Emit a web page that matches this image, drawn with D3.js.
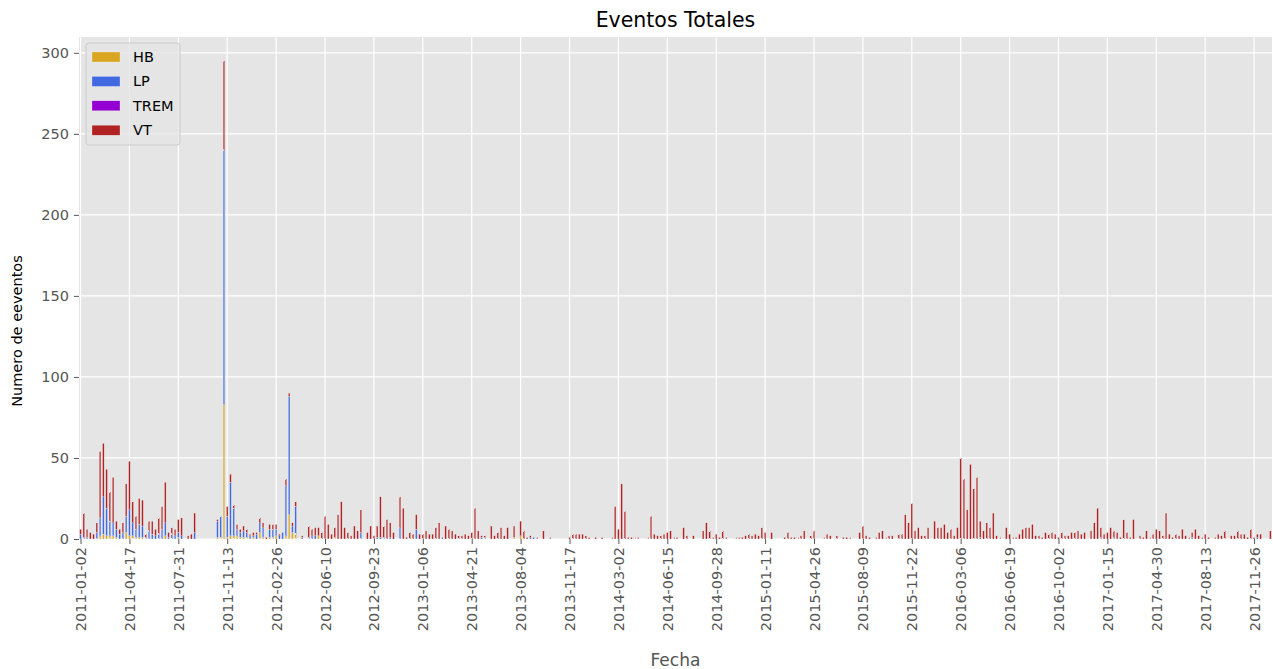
<!DOCTYPE html>
<html><head><meta charset="utf-8">
<script src="https://cdn.jsdelivr.net/npm/d3@7"></script>
<style>body{margin:0;background:#fff} text{font-family:"DejaVu Sans",sans-serif}</style>
</head><body><svg id="c" width="1273" height="669"></svg>
<script>
const startWeek = "2011-01-02";
const tickLabels = ["2011-01-02","2011-04-17","2011-07-31","2011-11-13","2012-02-26","2012-06-10","2012-09-23","2013-01-06","2013-04-21","2013-08-04","2013-11-17","2014-03-02","2014-06-15","2014-09-28","2015-01-11","2015-04-26","2015-08-09","2015-11-22","2016-03-06","2016-06-19","2016-10-02","2017-01-15","2017-04-30","2017-08-13","2017-11-26"];
const yTicks = [0,50,100,150,200,250,300];
const seriesNames = ["HB","LP","TREM","VT"];

const HB = [
0,0,0,0,0,0,2,3,2,2, 2,1,0,0,4,2,2,1,1,1, 0,0,0,0,0,0,2,0,0,0, 1,0,0,0,0,0,0,0,0,0,
0,0,1,1,83,1,2,2,2,1, 1,1,0,1,0,4,1,0,1,1, 2,0,0,2,15,4,3,0,0,0, 0,0,0,2,0,0,0,0,1,0,
0,0,0,0,0,0,0,0,0,0, 0,0,0,0,0,0,0,0,0,0, 0,0,0,0,0,0,0,0,0,0, 0,0,0,0,0,0,0,0,0,0,
0,0,0,0,0,0,0,0,0,0, 0,0,0,1,0,2,0,0,0,0, 0,0,0,0,0,0,0,0,0,0, 0,0,0,0,0,0,0,0,0,0,
0,0,0,0,0,0,0,0,0,0, 0,0,0,0,0,0,0,0,0,0, 0,0,0,0,0,0,0,0,0,0, 0,0,0,0,0,0,0,0,0,0,
0,0,0,0,0,0,0,0,0,0, 0,0,0,0,0,0,0,0,0,0, 0,0,0,0,0,0,0,0,0,0, 0,0,0,0,0,0,0,0,0,0,
0,0,0,0,0,0,0,0,0,0, 0,0,0,0,0,0,0,0,0,0, 0,0,0,0,0,0,0,0,0,0, 0,0,0,0,0,0,0,0,0,0,
0,0,0,0,0,0,0,0,0,0, 0,0,0,0,0,0,0,0,0,0, 0,0,0,0,0,0,0,0,0,0, 0,0,0,0,0,0,0,0,0,0,
0,0,0,0,0,0,0,0,0,0, 0,0,0,0,0,0,0,0,0,0, 0,0,0,0,0,0];
const LP = [
3,1,1,0,0,4,11,23,17,9, 8,5,3,4,10,16,8,5,8,7, 1,5,3,2,3,6,8,1,3,2, 3,2,0,0,0,4,0,0,0,0,
0,0,10,13,157,13,33,17,4,3, 4,3,2,1,3,6,6,0,5,5, 4,2,4,31,73,4,17,0,1,0, 1,2,2,0,0,0,0,0,0,0,
0,0,0,0,0,0,4,0,0,0, 0,1,1,1,0,1,0,0,7,0, 0,0,0,6,0,0,0,0,0,0, 0,1,0,0,0,0,0,0,0,0,
0,0,0,1,1,0,0,0,0,0, 0,0,0,0,0,0,0,0,1,1, 0,0,0,0,0,0,0,0,0,0, 0,0,0,0,0,0,0,0,0,0,
0,0,0,0,0,0,0,0,0,0, 0,0,0,0,0,0,0,0,0,0, 0,0,0,0,0,0,0,0,0,0, 0,0,0,0,0,0,0,0,0,0,
0,0,0,0,0,0,0,0,0,0, 0,0,0,0,0,0,0,0,0,0, 0,0,0,0,0,0,0,0,0,0, 0,0,0,0,0,0,0,0,0,0,
0,0,0,0,0,0,0,0,0,0, 0,0,0,0,0,0,0,0,0,0, 0,0,0,0,0,0,0,0,0,0, 0,0,0,0,0,0,1,0,0,0,
0,0,0,0,0,0,0,0,0,0, 0,0,0,0,0,0,0,0,0,0, 0,0,0,0,0,0,0,0,0,0, 0,0,0,1,0,0,0,1,0,0,
0,0,0,0,0,0,0,0,0,0, 0,0,0,0,0,0,0,0,0,0, 0,1,0,0,0,0,0,0,0,0, 0,0,0,0,0,0,0,0,0,0,
0,1,0,0,0,0];
const TREM = [
0,0,0,0,0,0,0,0,0,0, 0,0,0,0,0,0,0,0,0,0, 0,0,0,0,0,0,0,0,0,0, 0,0,0,0,0,0,0,0,0,0,
0,0,0,0,0,0,0,0,0,0, 0,0,0,0,0,0,0,0,0,0, 0,0,0,0,0,0,0,0,0,0, 0,0,0,0,0,0,0,0,0,0,
0,0,0,0,0,0,0,0,0,0, 0,0,0,0,0,0,0,0,0,0, 0,0,0,0,0,0,0,0,0,0, 0,0,0,0,0,0,0,0,0,0,
0,0,0,0,0,0,0,0,0,0, 0,0,0,0,0,0,0,0,0,0, 0,0,0,0,0,0,0,0,0,0, 0,0,0,0,0,0,0,0,0,0,
0,0,0,0,0,0,0,0,0,0, 0,0,0,0,0,0,0,0,0,0, 0,0,0,0,0,0,0,0,0,0, 0,0,0,0,0,0,0,0,0,0,
0,0,0,0,0,0,0,0,0,0, 0,0,0,0,0,0,0,0,0,0, 0,0,0,0,0,0,0,0,0,0, 0,0,0,0,0,0,0,0,0,0,
0,0,0,0,0,0,0,0,0,0, 0,0,0,0,0,0,0,0,0,0, 0,0,0,0,0,0,0,0,0,0, 0,0,0,0,0,0,0,0,0,0,
0,0,0,0,0,0,0,0,0,0, 0,0,0,0,0,0,0,0,0,0, 0,0,0,0,0,0,0,0,0,0, 0,0,0,0,0,0,0,0,0,0,
0,0,0,0,0,0,0,0,0,0, 0,0,0,0,0,0,0,0,0,0, 0,0,0,0,0,0,0,0,0,0, 0,0,0,0,0,0,0,0,0,0,
0,0,0,0,0,0];
const VT = [
3,15,5,4,3,6,41,33,24,18, 28,5,3,6,20,30,13,8,16,16, 2,6,8,4,10,14,25,3,4,4, 8,11,0,2,3,12,0,0,0,0,
0,0,1,0,55,6,5,2,3,2, 3,2,1,2,1,3,3,1,3,3, 3,1,0,4,2,2,3,0,1,0, 7,4,5,5,4,14,9,3,6,15,
23,7,4,2,8,5,14,0,4,8, 2,7,25,7,12,9,4,0,19,19, 1,4,3,9,3,3,5,3,3,7, 10,0,8,6,5,3,2,2,3,2,
4,19,5,1,1,0,8,2,4,7, 2,7,0,7,0,9,5,1,1,0, 1,0,5,0,1,0,0,0,0,0, 1,3,3,3,3,2,1,0,1,0,
1,0,0,1,20,6,34,17,1,1, 1,1,0,0,1,14,3,2,2,3, 4,5,1,1,0,7,2,0,2,0, 0,5,10,5,1,3,1,5,1,0,
0,1,1,1,2,3,2,3,2,7, 4,0,4,0,0,0,1,4,1,1, 1,2,5,0,2,5,0,0,1,3, 2,0,2,0,1,1,1,0,0,4,
8,2,1,0,1,4,5,1,2,2, 0,3,3,15,10,22,5,7,2,2, 7,0,11,7,7,9,4,6,2,7, 50,37,18,46,31,38,10,5,10,7,
16,2,1,0,7,3,1,1,3,6, 7,7,9,2,2,1,4,3,4,3, 1,4,2,2,4,4,5,3,4,0, 5,10,19,6,3,4,7,4,4,1,
12,4,1,12,0,2,1,5,1,3, 6,5,2,16,3,1,3,2,6,2, 1,3,6,2,1,3,1,0,1,3, 2,5,0,2,2,5,3,3,1,6,
1,2,3,0,0,5];

const colors = {HB:"#DAA520", LP:"#4169E1", TREM:"#9400D3", VT:"#B22222"};
const N = VT.length;
const parse = d3.utcParse("%Y-%m-%d"), fmt = d3.utcFormat("%Y-%m-%d");
const categories = d3.range(N).map(i => fmt(d3.utcDay.offset(parse(startWeek), 7 * i)));
const values = {HB, LP, TREM, VT};
const rows = categories.map((c, i) => { const r = {fecha: c}; seriesNames.forEach(k => r[k] = values[k][i]); return r; });
const stacked = d3.stack().keys(seriesNames)(rows);

const M = {l: 78.9, r: 1272, t: 37, b: 539};
const x = d3.scaleLinear().domain([-0.5, N - 0.5]).range([M.l, M.r]);
const ymax = d3.max(rows, d => d3.sum(seriesNames, k => d[k])) * 1.05;
const y = d3.scaleLinear().domain([0, ymax]).range([M.b, M.t]);
const tickIdx = tickLabels.map(l => categories.indexOf(l));

const svg = d3.select("#c");
svg.append("rect").attr("x", M.l).attr("y", M.t).attr("width", M.r - M.l).attr("height", M.b - M.t).attr("fill", "#E5E5E5");

// grid
svg.append("g").selectAll("line").data(yTicks).join("line")
  .attr("x1", M.l).attr("x2", M.r).attr("y1", d => y(d)).attr("y2", d => y(d))
  .attr("stroke", "#fff").attr("stroke-width", 1.2);
svg.append("g").selectAll("line").data(tickIdx).join("line")
  .attr("y1", M.t).attr("y2", M.b).attr("x1", d => x(d)).attr("x2", d => x(d))
  .attr("stroke", "#fff").attr("stroke-width", 1.2);

// bars
svg.append("g").selectAll("g").data(stacked).join("g")
  .attr("fill", d => colors[d.key])
  .selectAll("rect").data(d => d.filter(s => s[1] - s[0] > 0)).join("rect")
  .attr("x", d => x(categories.indexOf(d.data.fecha) - 0.25))
  .attr("width", x(0.25) - x(-0.25))
  .attr("y", d => y(d[1]))
  .attr("height", d => y(d[0]) - y(d[1]))
  .attr("stroke", "#EEEEEE").attr("stroke-width", 0.3);

// axes
const xa = svg.append("g").attr("transform", `translate(0,${M.b})`)
  .call(d3.axisBottom(x).tickValues(tickIdx).tickFormat(i => categories[i]).tickSize(5));
xa.select(".domain").remove();
xa.selectAll(".tick line").attr("stroke", "#555555");
xa.selectAll(".tick text").attr("fill", "#555555").attr("font-size", 14.5)
  .attr("transform", "rotate(-90)").attr("text-anchor", "end")
  .attr("x", -8).attr("y", 0).attr("dy", "0.35em");

const ya = svg.append("g").attr("transform", `translate(${M.l},0)`)
  .call(d3.axisLeft(y).tickValues(yTicks).tickSize(5).tickPadding(5));
ya.select(".domain").remove();
ya.selectAll(".tick line").attr("stroke", "#555555");
ya.selectAll(".tick text").attr("fill", "#555555").attr("font-size", 14.5);

// titles
svg.append("text").attr("x", (M.l + M.r) / 2).attr("y", 27).attr("text-anchor", "middle")
  .attr("font-size", 20.5).attr("fill", "#000").text("Eventos Totales");
svg.append("text").attr("x", (M.l + M.r) / 2).attr("y", 666).attr("text-anchor", "middle")
  .attr("font-size", 17).attr("fill", "#555555").text("Fecha");
svg.append("text").attr("transform", "translate(22,331) rotate(-90)").attr("text-anchor", "middle")
  .attr("font-size", 14.5).attr("fill", "#000").text("Numero de eeventos");

// legend
const lg = svg.append("g").attr("transform", "translate(86,43)");
lg.append("rect").attr("width", 94).attr("height", 102).attr("rx", 3)
  .attr("fill", "#E5E5E5").attr("fill-opacity", 0.8).attr("stroke", "#CCCCCC");
seriesNames.forEach((k, i) => {
  const g = lg.append("g").attr("transform", `translate(0,${14 + i * 24.4})`);
  g.append("rect").attr("x", 6).attr("y", -5).attr("width", 28).attr("height", 10)
    .attr("fill", colors[k]).attr("stroke", "#EEEEEE").attr("stroke-width", 0.3);
  g.append("text").attr("x", 47).attr("y", 0).attr("dy", "0.35em").attr("font-size", 14.5)
    .attr("fill", "#000").text(k);
});
</script></body></html>
